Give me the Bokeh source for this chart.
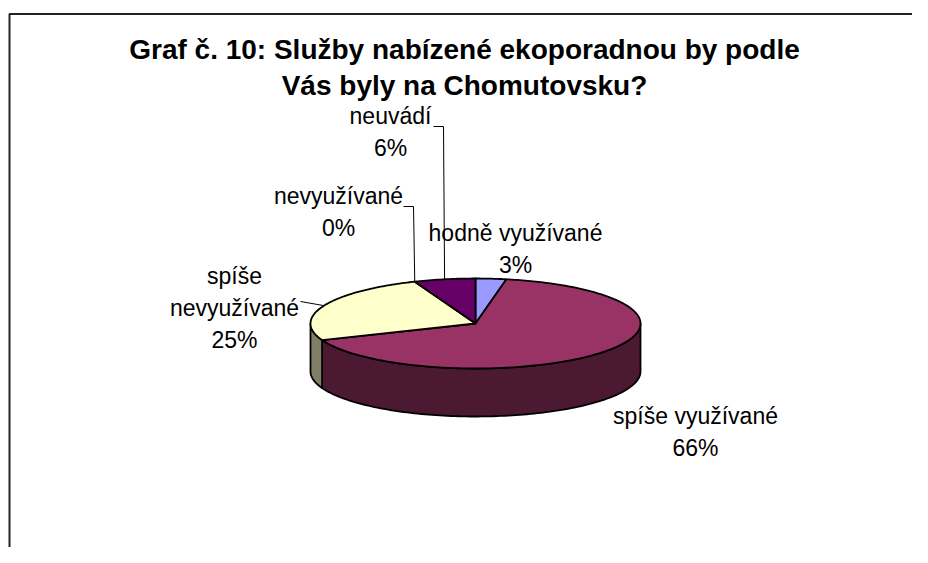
import numpy as np
from bokeh.plotting import figure
from bokeh.models import Range1d, ColumnDataSource
from bokeh.core.properties import value
from bokeh.embed import file_html
from bokeh.resources import INLINE

# ---- data ----
title_lines = ["Graf č. 10: Služby nabízené ekoporadnou by podle", "Vás byly na Chomutovsku?"]
categories = ["hodně využívané", "spíše využívané", "spíše nevyužívané", "nevyužívané", "neuvádí"]
percents = [3, 66, 25, 0, 6]
top_colors = ["#9999FF", "#993366", "#FFFFCC", "#CCFFFF", "#660066"]

# ---- layout (screen-pixel coordinates, y downward) ----
W, H = 912, 547
CX, CY, RX, RY, DEPTH = 475, 323, 165, 45, 48
label_wrap = {"spíše nevyužívané": ["spíše", "nevyužívané"]}
label_x = [515, 695, 234, 338, 390]
label_y0 = [232, 415, 275, 195, 115]
line_step = 32
leader_start = {"spíše nevyužívané": [(300, 301)],
                "nevyužívané": [(403, 206), (413, 206)],
                "neuvádí": [(433, 126), (443, 126)]}


def darken(hexc, f=0.5):
    r, g, b = int(hexc[1:3], 16), int(hexc[3:5], 16), int(hexc[5:7], 16)
    return "#%02x%02x%02x" % (int(r * f), int(g * f), int(b * f))


def ex(t):
    return CX + RX * np.sin(t)


def ey(t):
    return CY - RY * np.cos(t)


p = figure(width=W, height=H, output_backend="svg", toolbar_location=None,
           x_range=Range1d(0, W), y_range=Range1d(H, 0),
           min_border=0, background_fill_color="white", border_fill_color="white")
p.axis.visible = False
p.grid.visible = False
p.outline_line_color = None

# frame (left and top edges of the chart area)
p.line(x=[9, 9, W + 10], y=[H + 10, 13.5, 13.5], line_color="#222222", line_width=2)

total = float(sum(percents))
fracs = np.cumsum([0] + percents) / total
starts = fracs[:-1] * 2 * np.pi
ends = fracs[1:] * 2 * np.pi

# side faces (front half: angles from pi/2 to 3pi/2)
sx, sy, sc = [], [], []
for a0, a1, c in zip(starts, ends, top_colors):
    lo, hi = max(a0, np.pi / 2), min(a1, 3 * np.pi / 2)
    if hi - lo <= 1e-6:
        continue
    t = np.linspace(lo, hi, 120)
    xs = list(ex(t)) + list(ex(t[::-1]))
    ys = list(ey(t)) + list(ey(t[::-1]) + DEPTH)
    sx.append(xs)
    sy.append(ys)
    sc.append(darken(c))
p.patches(xs="xs", ys="ys", fill_color="c", line_color="black", line_width=1.8,
          line_join="round", source=ColumnDataSource(dict(xs=sx, ys=sy, c=sc)))

# top faces
tx, ty, tc = [], [], []
for a0, a1, c in zip(starts, ends, top_colors):
    if a1 - a0 <= 1e-6:
        continue
    t = np.linspace(a0, a1, max(3, int((a1 - a0) * 60)))
    tx.append([CX] + list(ex(t)))
    ty.append([CY] + list(ey(t)))
    tc.append(c)
p.patches(xs="xs", ys="ys", fill_color="c", line_color="black", line_width=1.8,
          line_join="round", source=ColumnDataSource(dict(xs=tx, ys=ty, c=tc)))

# leader lines
mids = (starts + ends) / 2
for cat, m in zip(categories, mids):
    if cat in leader_start:
        pts = leader_start[cat] + [(ex(m), ey(m))]
        p.line(x=[q[0] for q in pts], y=[q[1] for q in pts], line_color="black", line_width=1)

# labels
lx, ly, lt = [], [], []
for cat, pc, x0, y0 in zip(categories, percents, label_x, label_y0):
    lines = label_wrap.get(cat, [cat]) + ["%d%%" % pc]
    for i, s in enumerate(lines):
        lx.append(x0)
        ly.append(y0 + i * line_step)
        lt.append(s)
p.text(x="x", y="y", text="t", source=ColumnDataSource(dict(x=lx, y=ly, t=lt)),
       text_font=value("Liberation Sans"), text_font_size="23px", text_color="black",
       text_align="center", text_baseline="alphabetic")

# title
p.text(x=[464, 464], y=[49, 85], text=title_lines,
       text_font=value("Liberation Sans"), text_font_size="28px", text_font_style="bold",
       text_color="black", text_align="center", text_baseline="alphabetic")

open("out.html", "w").write(file_html(p, INLINE))
